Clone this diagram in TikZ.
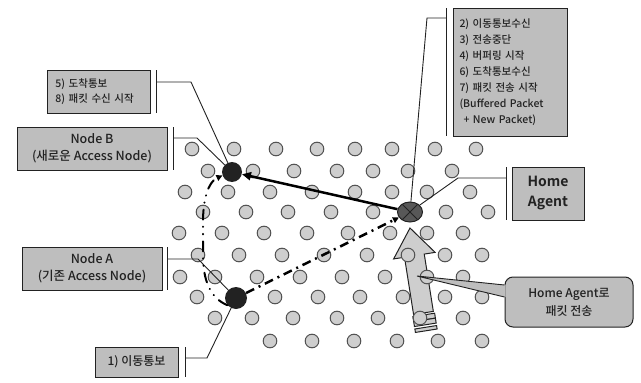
\documentclass[tikz,border=0pt]{standalone}
\usepackage{fontspec}
\setmainfont{Noto Sans CJK KR}[UprightFont={* Medium}, BoldFont={* Bold}]
\usepackage{xcolor}
\usepackage{tikz}
\usetikzlibrary{arrows.meta}
\usetikzlibrary{shapes.geometric, calc}

\definecolor{dotgray}{RGB}{206,206,206}
\definecolor{boxgray}{RGB}{190,190,190}
\definecolor{inkgray}{RGB}{34,34,34}
\definecolor{hagray}{RGB}{88,88,88}

\begin{document}
\begin{tikzpicture}[x=1pt,y=-1pt,
    labelbox/.style={draw=inkgray, fill=boxgray, line width=1pt, text=inkgray, inner sep=0pt, align=center},
    leader/.style={draw=inkgray, line width=0.9pt},
    cell/.style={draw=gray!65!black, fill=dotgray, line width=1pt}]
    \useasboundingbox (0,0) rectangle (641,383);

    % big arrow towards the Home Agent
    \begin{scope}[shift={(410,228)}, rotate=9]
        \filldraw[fill=dotgray, draw=inkgray, line width=1pt]
            (0,0) -- (21,28) -- (10,28) -- (10,86) -- (-10,86) -- (-10,28) -- (-21,28) -- cycle;
        \filldraw[fill=dotgray, draw=inkgray, line width=1pt] (-11,88) rectangle (11,93);
        \filldraw[fill=dotgray, draw=inkgray, line width=1pt] (-11,93) rectangle (11,98);
        \filldraw[fill=dotgray, draw=inkgray, line width=1pt] (-11,100.5) rectangle (11,104);
    \end{scope}

    % access nodes
    \foreach \y/\xs in {149/{192,234,276,317,355,392,435,476},
                        171/{208,253,294,337,373,408,452},
                        192/{185,228,270,312,355,392,427,470},
                        212/{203,246,288,331,373,446,488},
                        233/{179,222,264,307,348,390,427,463},
                        255/{198,239,282,324,367,408,445,482},
                        277/{180,215,257,300,342,385,427,463},
                        297/{197,275,318,360,403,445,482},
                        318/{215,252,293,337,378,420,463},
                        341/{270,312,354,397,438,482}} {
        \foreach \x in \xs {
            \draw[cell] (\x,\y) circle[radius=6.8pt];
        }
    }

    % callout
    \node[labelbox, rounded corners=8pt, minimum width=128pt, minimum height=50pt,
          font=\fontsize{12}{18}\selectfont] (callout) at (569,302) {Home Agent로\\패킷 전송};
    \coordinate (tip) at (417,276);
    \fill[boxgray] (tip) -- ([xshift=1pt,yshift=17pt]callout.west) -- ([xshift=1pt,yshift=5pt]callout.west) -- cycle;
    \draw[leader] ([yshift=17pt]callout.west) -- (tip) -- ([yshift=5pt]callout.west);

    % label boxes
    \node[labelbox, minimum width=103pt, minimum height=43pt, text width=86pt, align=left,
          font=\fontsize{10.5}{15}\selectfont] (box58) at (98.5,91.5) {5) 도착통보\\8) 패킷 수신 시작};
    \node[labelbox, minimum width=150pt, minimum height=43pt,
          font=\fontsize{12.5}{17}\selectfont] (boxB) at (92,148.5) {Node B\\(새로운 Access Node)};
    \node[labelbox, minimum width=114pt, minimum height=128pt, text width=101pt, align=left,
          font=\fontsize{10.5}{16}\selectfont] (boxsteps) at (510,72)
          {2) 이동통보수신\\3) 전송중단\\4) 버퍼링 시작\\6) 도착통보수신\\7) 패킷 전송 시작\\(Buffered Packet\\\hspace{4pt}+ New Packet)};
    \node[labelbox, minimum width=72pt, minimum height=53pt,
          font=\fontsize{14}{20}\selectfont\bfseries] (boxHA) at (548,193.5) {Home\\Agent};
    \node[labelbox, minimum width=140pt, minimum height=43pt,
          font=\fontsize{12.5}{17}\selectfont] (boxA) at (92,268.5) {Node A\\(기존 Access Node)};
    \node[labelbox, minimum width=83pt, minimum height=30pt,
          font=\fontsize{12}{15}\selectfont] (box1) at (136.5,362) {1) 이동통보};

    % nodes
    \node[circle, fill=inkgray, minimum size=20pt, inner sep=0pt] (nodeB) at (232,172) {};
    \node[circle, fill=inkgray, minimum size=22pt, inner sep=0pt] (nodeA) at (236,298) {};
    \node[ellipse, draw=inkgray, fill=hagray, line width=1pt, minimum width=25pt,
          minimum height=20pt, inner sep=0pt] (ha) at (410,212) {};
    \draw[inkgray, line width=1pt] (ha.135) -- (ha.-45) (ha.45) -- (ha.-135);

    % leaders
    \draw[leader] (156,70) -- (156,113);
    \coordinate (k58) at (156,82);
    \draw[leader] (k58) -- (191,82) -- (nodeB);
    \draw[leader] (173,127) -- (173,170);
    \coordinate (kB) at (173,138);
    \draw[leader] (kB) -- (197,138) -- (nodeB);
    \draw[leader] (446,8) -- (446,136);
    \coordinate (ksteps) at (446,18);
    \draw[leader] (ksteps) -- (427,18) -- (ha);
    \draw[leader] (506,167) -- (506,220);
    \coordinate (kHA) at (506,178);
    \draw[leader] (kHA) -- (458,178) -- (ha);
    \draw[leader] (167,247) -- (167,290);
    \coordinate (kA) at (167,259);
    \draw[leader] (kA) -- (198,259) -- (nodeA);
    \draw[leader] (185,347) -- (185,377);
    \coordinate (k1) at (185,358);
    \draw[leader] (k1) -- (207,358) -- (nodeA);

    % messages
    \draw[black, line width=2.5pt, -{Triangle[length=9pt,width=8pt]}] (ha) -- (nodeB);
    \draw[black, line width=2.5pt, dash pattern=on 9pt off 5pt on 2pt off 5pt,
          -{Triangle[length=6pt,width=6pt]}] (nodeA) -- (ha);
    \draw[black, line width=2pt, line cap=round, dash pattern=on 10pt off 7pt on 0.3pt off 7pt on 0.3pt off 7pt,
          -{Triangle[length=6pt,width=6pt]}]
        (nodeA.220) .. controls (210,298) and (203,280) .. (203,255) -- (203,222)
        .. controls (203,200) and (208,182) .. (nodeB.200);
\end{tikzpicture}
\end{document}
